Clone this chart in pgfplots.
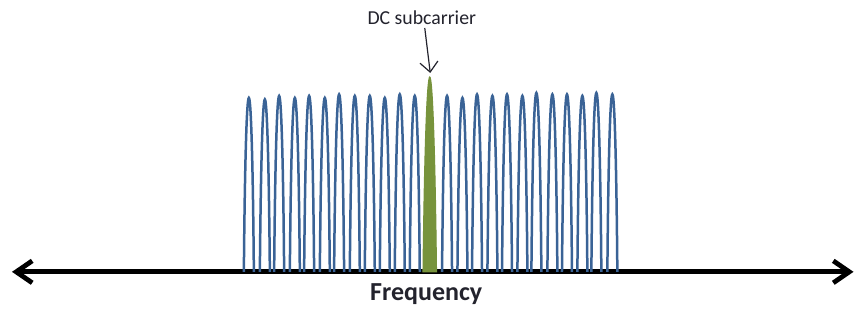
\documentclass[border=0pt]{standalone}
\usepackage{pgfplots}
\pgfplotsset{compat=1.18}
\usepackage{pgfplotstable}
\usepackage{fontspec}
\setmainfont{Carlito}
\usetikzlibrary{arrows.meta}
\definecolor{archblue}{RGB}{58,99,150}
\definecolor{dcgreen}{RGB}{119,147,60}
\definecolor{labeltext}{RGB}{35,35,45}
\def\archw{2.5pt}
\def\archk{1.5pt}
\def\dcw{3.4pt}
\def\dck{1.9pt}
\pgfdeclareplotmark{arch}{%
  \pgfmathsetlengthmacro\archd{\archh*0.5pt}%
  \pgfmathsetlengthmacro\archc{\archh*0.5pt/3}%
  \pgfpathmoveto{\pgfqpoint{-\archw}{-\archd}}%
  \pgfpathcurveto{\pgfqpoint{-\archk}{\archc}}{\pgfqpoint{\archk}{\archc}}{\pgfqpoint{\archw}{-\archd}}%
  \pgfusepathqstroke}
\pgfdeclareplotmark{archfill}{%
  \pgfmathsetlengthmacro\archd{\archh*0.5pt}%
  \pgfmathsetlengthmacro\archc{\archh*0.5pt/3}%
  \pgfpathmoveto{\pgfqpoint{-\dcw}{-\archd}}%
  \pgfpathcurveto{\pgfqpoint{-\dck}{\archc}}{\pgfqpoint{\dck}{\archc}}{\pgfqpoint{\dcw}{-\archd}}%
  \pgfpathclose
  \pgfusepathqfillstroke}
% subcarrier centre (pixels) and peak height above the baseline
\pgfplotstableread{
x h
249 174
265 172.5
279.3 176
295 174
309.3 176
325 174
339.3 177.5
355 176
370 176
385 174
400 177.5
415 176
447.3 176
462.7 174
477.3 177.5
492.7 176
507.3 177.5
522.7 176
536.7 179
552.7 177.5
567.3 177.5
582.7 176
596.7 179
612.7 177.5
}\bluearches
\pgfplotstableread{
x h
430 195
}\dcarch
\begin{document}
\begin{tikzpicture}
\begin{axis}[
  x=0.5pt, y=0.5pt,
  xmin=12, xmax=854, ymin=-38, ymax=272,
  axis y line=none,
  axis x line=middle,
  xtick=\empty, ytick=\empty,
  every inner x axis line/.style={line width=2.4pt, black, {Straight Barb[length=8pt,width=11pt]}-{Straight Barb[length=8pt,width=11pt]}},
  x axis line style={line width=2.4pt, black, {Straight Barb[length=8pt,width=11pt]}-{Straight Barb[length=8pt,width=11pt]}},
  clip=false,
  axis on top,
]
\addplot[scatter, only marks, mark=arch,
  scatter/use mapped color={draw=archblue, line width=1.25pt},
  visualization depends on={\thisrow{h}\as\archh}]
  table[x=x, y=h]{\bluearches};
\addplot[scatter, only marks, mark=archfill,
  scatter/use mapped color={draw=dcgreen, fill=dcgreen, line width=0.5pt},
  visualization depends on={\thisrow{h}\as\archh}]
  table[x=x, y=h]{\dcarch};
\node[anchor=base, text=labeltext, font=\fontsize{9.9}{12}\selectfont] at (axis cs:422,247) {DC subcarrier};
\draw[line width=0.6pt, color=labeltext, -{Straight Barb[length=5pt,width=9pt]}] (axis cs:425,244) -- (axis cs:430.5,199);
\node[anchor=base, text=labeltext, font=\bfseries\fontsize{13}{15}\selectfont] at (axis cs:426.5,-29) {Frequency};
\path (axis cs:0,-38) rectangle (axis cs:857,272);
\end{axis}
\end{tikzpicture}
\end{document}
